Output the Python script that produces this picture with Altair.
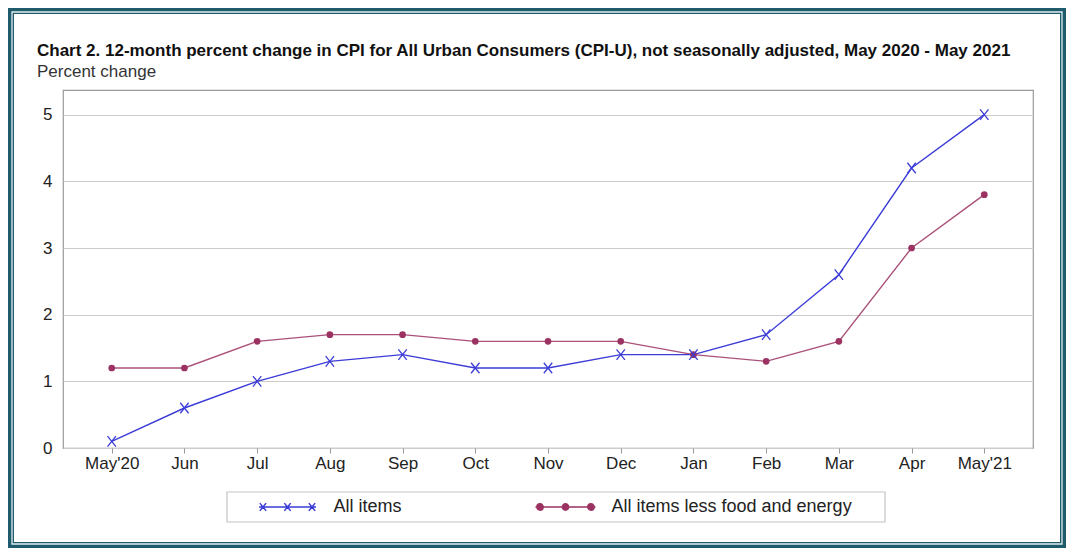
import altair as alt
import pandas as pd

# ---------------- data ----------------
months = ["May'20", "Jun", "Jul", "Aug", "Sep", "Oct", "Nov", "Dec", "Jan", "Feb", "Mar", "Apr", "May'21"]
all_items = [0.1, 0.6, 1.0, 1.3, 1.4, 1.2, 1.2, 1.4, 1.4, 1.7, 2.6, 4.2, 5.0]
core_items = [1.2, 1.2, 1.6, 1.7, 1.7, 1.6, 1.6, 1.6, 1.4, 1.3, 1.6, 3.0, 3.8]
series_names = ["All items", "All items less food and energy"]
y_ticks = [0, 1, 2, 3, 4, 5]
title_text = ("Chart 2. 12-month percent change in CPI for All Urban Consumers (CPI-U), "
              "not seasonally adjusted, May 2020 - May 2021")
subtitle_text = "Percent change"

# ---------------- style ----------------
BLUE = "#3c3cd8"
MAROON = "#9b3262"
TEAL = "#1e5b6c"
FONT = "Liberation Sans"
TXT = "#222222"

W, H = 970, 358
TOTAL_W, TOTAL_H = 1058, 540
PAD_L, PAD_T = 55, 82
PAD_R = TOTAL_W - PAD_L - W
PAD_B = TOTAL_H - PAD_T - H

X_PATH = "M-0.8,-1L0.8,1M-0.8,1L0.8,-1"


def circle(cx, r):
    return (f"M{cx - r},0A{r},{r} 0 1,0 {cx + r},0A{r},{r} 0 1,0 {cx - r},0Z")


def xmark(cx, hw, hh):
    return (f"M{cx - hw},{-hh}L{cx + hw},{hh}M{cx - hw},{hh}L{cx + hw},{-hh}")


# legend symbols (unit = 7 px with symbol size 196)
LEG1 = "M-4.07,0L4.07,0" + xmark(-3.5, 0.45, 0.55) + xmark(0, 0.45, 0.55) + xmark(3.5, 0.45, 0.55)
LEG2 = "M-4.29,0L4.29,0" + circle(-3.64, 0.45) + circle(0, 0.45) + circle(3.64, 0.45)

df = pd.DataFrame({
    "month": months * 2,
    "value": all_items + core_items,
    "series": [series_names[0]] * len(months) + [series_names[1]] * len(months),
})

x_enc = alt.X("month:N", sort=months,
              scale=alt.Scale(type="point", padding=0.67),
              axis=alt.Axis(title=None, labelAngle=0, domain=False, grid=False,
                            ticks=True, tickSize=5, tickColor="#999999",
                            labelFont=FONT, labelFontSize=17, labelColor=TXT,
                            labelPadding=2))
y_enc = alt.Y("value:Q",
              scale=alt.Scale(domain=[0, 5.37], nice=False, zero=True),
              axis=alt.Axis(title=None, values=y_ticks, domain=False, ticks=False,
                            grid=True, gridColor="#cccccc", gridWidth=1.2,
                            labelFont=FONT, labelFontSize=17, labelColor=TXT,
                            labelPadding=11))

base = alt.Chart(df).encode(x=x_enc, y=y_enc)
only_all = alt.datum.series == series_names[0]
only_core = alt.datum.series == series_names[1]

line_all = base.transform_filter(only_all).mark_line(color=BLUE, strokeWidth=1.4)
pts_all = base.transform_filter(only_all).mark_point(
    shape=X_PATH, size=110, filled=False, color=BLUE, strokeWidth=1.3, opacity=1)
line_core = base.transform_filter(only_core).mark_line(color=MAROON, strokeWidth=1.4, opacity=0.85)
pts_core = base.transform_filter(only_core).mark_point(
    shape="circle", size=45, filled=True, color=MAROON, opacity=1)

LEG = alt.Legend(title=None, orient="none", legendX=195, legendY=408,
                 direction="horizontal", padding=0,
                 symbolOffset=20.5, labelOffset=37, columnPadding=130,
                 labelFont=FONT, labelFontSize=18, labelColor=TXT, labelLimit=500,
                 symbolStrokeWidth=1.5, symbolSize=196)

legend_layer = alt.Chart(df).transform_filter("false").mark_point(
    filled=False, size=196, strokeWidth=1.5, opacity=1).encode(
    x=x_enc, y=y_enc,
    color=alt.Color("series:N", scale=alt.Scale(domain=series_names, range=[BLUE, MAROON]), legend=LEG),
    fill=alt.Fill("series:N", scale=alt.Scale(domain=series_names, range=["transparent", MAROON]), legend=LEG),
    shape=alt.Shape("series:N", scale=alt.Scale(domain=series_names, range=[LEG1, LEG2]), legend=LEG),
)

deco = alt.Chart(pd.DataFrame({"k": [0]}))
frame_outer = deco.mark_rect(fill="transparent", stroke=TEAL, strokeWidth=6).encode(
    x=alt.value(-PAD_L + 3), x2=alt.value(W + PAD_R - 3),
    y=alt.value(-PAD_T + 3), y2=alt.value(H + PAD_B - 3))
frame_line = deco.mark_rect(fill="transparent", stroke="#e2eef0", strokeWidth=1.3).encode(
    x=alt.value(-PAD_L + 4), x2=alt.value(W + PAD_R - 4),
    y=alt.value(-PAD_T + 4), y2=alt.value(H + PAD_B - 4))
legend_box = deco.mark_rect(fill="white", stroke="#c4c4c4", strokeWidth=1.2).encode(
    x=alt.value(164), x2=alt.value(822), y=alt.value(402), y2=alt.value(432))
title_mark = deco.mark_text(align="left", baseline="alphabetic", font=FONT, fontSize=17,
                            fontWeight="bold", color="#111111").encode(
    text=alt.value(title_text), x=alt.value(-26), y=alt.value(-34))
subtitle_mark = deco.mark_text(align="left", baseline="alphabetic", font=FONT, fontSize=17,
                               color="#333333").encode(
    text=alt.value(subtitle_text), x=alt.value(-26), y=alt.value(-13))

chart = alt.layer(
    frame_outer, frame_line, legend_box, title_mark, subtitle_mark,
    line_core, line_all, pts_core, pts_all, legend_layer,
).properties(
    width=W, height=H,
    autosize=alt.AutoSizeParams(type="none"),
    padding={"left": PAD_L, "top": PAD_T, "right": PAD_R, "bottom": PAD_B},
    background="white",
).configure_view(stroke="#999999", strokeWidth=1.2)

chart.save("out.html", embed_options={"renderer": "svg", "actions": False})
